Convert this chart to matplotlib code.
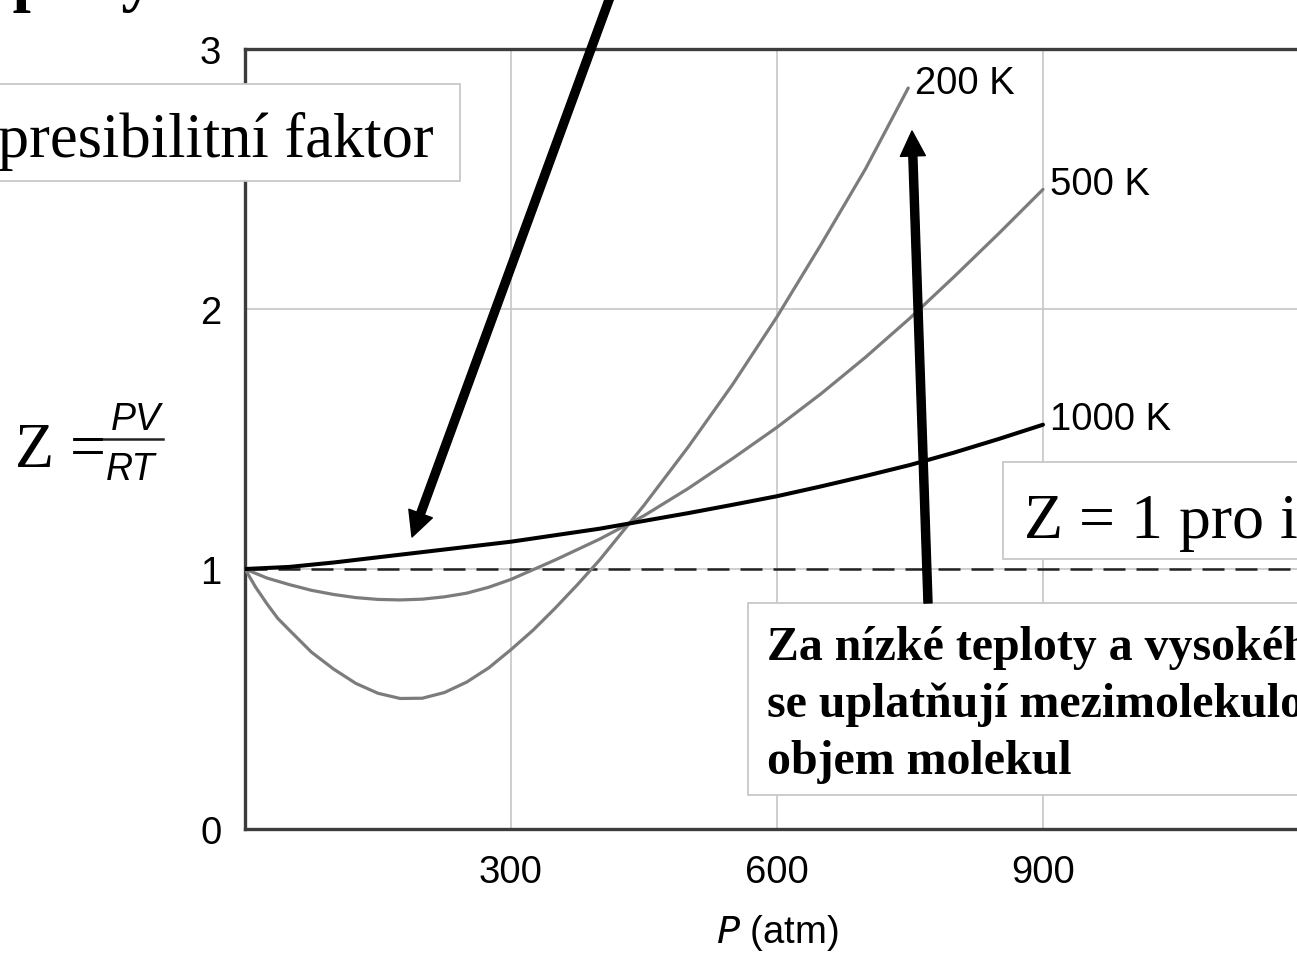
import matplotlib
matplotlib.use("Agg")
import matplotlib.pyplot as plt
from matplotlib.patches import Rectangle, FancyArrowPatch

# ---- data ----
p_200 = [0, 12, 25, 37, 50, 75, 100, 125, 150, 175, 200, 225, 250, 275, 300, 325, 350, 375,
         400, 450, 500, 550, 600, 650, 700, 748]
z_200 = [1.0, 0.93, 0.865, 0.81, 0.765, 0.68, 0.615, 0.56, 0.522, 0.502, 0.503, 0.525, 0.565,
         0.62, 0.69, 0.765, 0.85, 0.94, 1.035, 1.245, 1.47, 1.71, 1.97, 2.25, 2.54, 2.85]

p_500 = [0, 25, 50, 75, 100, 125, 150, 175, 200, 225, 250, 275, 300, 350, 400, 450, 500, 550,
         600, 650, 700, 750, 800, 850, 900]
z_500 = [1.0, 0.965, 0.94, 0.918, 0.902, 0.89, 0.883, 0.881, 0.884, 0.893, 0.907, 0.93, 0.96,
         1.035, 1.115, 1.205, 1.31, 1.425, 1.545, 1.675, 1.815, 1.965, 2.125, 2.29, 2.46]

p_1000 = [0, 50, 100, 150, 200, 250, 300, 350, 400, 450, 500, 550, 600, 650, 700, 750, 800,
          850, 900]
z_1000 = [1.0, 1.008, 1.025, 1.045, 1.065, 1.085, 1.105, 1.13, 1.155, 1.185, 1.215, 1.247,
          1.28, 1.318, 1.358, 1.40, 1.448, 1.50, 1.555]

series_labels = ["200 K", "500 K", "1000 K"]
x_ticks = [300, 600, 900]
y_ticks = [0, 1, 2, 3]

W, H = 1297, 954
fig = plt.figure(figsize=(W / 100, H / 100), dpi=100)

def fx(x):
    return x / W

def fy(y):
    return 1 - y / H

ax = fig.add_axes([245 / W, 124 / H, 1064 / W, 780 / H])
ax.set_xlim(0, 1200)
ax.set_ylim(0, 3)
ax.set_xticks(x_ticks)
ax.set_yticks(y_ticks)
ax.grid(True, color="#c6c6c6", lw=1.2, zorder=0)
ax.set_axisbelow(True)
ax.tick_params(length=0, labelsize=27.5)
ax.tick_params(axis="y", pad=17)
ax.tick_params(axis="x", pad=18)
for lab in ax.get_xticklabels() + ax.get_yticklabels():
    lab.set_family("Liberation Sans")
for s in ["left", "bottom", "top"]:
    ax.spines[s].set_color("#3c3c3c")
    ax.spines[s].set_linewidth(2.4)
ax.spines["right"].set_visible(False)

ax.axhline(1, color="#222222", lw=1.8, ls=(0, (8.8, 4.4)), zorder=2)

gray = "#7c7c7c"
kw = dict(solid_joinstyle="round", solid_capstyle="round")
ax.plot(p_200, z_200, color=gray, lw=2.3, zorder=3, **kw)
ax.plot(p_500, z_500, color=gray, lw=2.3, zorder=3, **kw)
ax.plot(p_1000, z_1000, color="black", lw=2.9, zorder=4, **kw)

for px, pz, lab in [(p_200, z_200, series_labels[0]),
                    (p_500, z_500, series_labels[1]),
                    (p_1000, z_1000, series_labels[2])]:
    ax.text(px[-1] + 8, pz[-1] + 0.02, lab, fontsize=27.5, family="Liberation Sans",
            ha="left", va="center", zorder=5)

plt.rcParams["mathtext.fontset"] = "custom"
plt.rcParams["mathtext.it"] = "Liberation Sans:italic"
plt.rcParams["mathtext.rm"] = "Liberation Sans"
ax.set_xlabel("$P$ (atm)", fontsize=27.5, family="Liberation Sans", labelpad=16)

# Z = PV/RT
fig.text(fx(15), fy(467), "Z =", fontsize=46, family="Liberation Serif", ha="left", va="baseline")
fig.text(fx(136), fy(430), "PV", fontsize=27, family="Liberation Sans", style="italic",
         ha="center", va="baseline")
fig.text(fx(131), fy(480), "RT", fontsize=27, family="Liberation Sans", style="italic",
         ha="center", va="baseline")
fig.add_artist(plt.Line2D([fx(100), fx(163)], [fy(440), fy(440)], transform=fig.transFigure,
                          color="#222222", lw=1.8))

# top bold text (mostly cut off by the top edge)
fig.text(fx(-38), fy(-1), "teploty a nízkého tlaku", fontsize=47, family="Liberation Serif",
         weight="bold", ha="left", va="baseline")

def box(x0, y0, x1, y1):
    fig.add_artist(Rectangle((fx(x0), fy(y1)), fx(x1) - fx(x0), fy(y0) - fy(y1),
                             transform=fig.transFigure, facecolor="white",
                             edgecolor="#c8c8c8", lw=1.3, zorder=6))

box(-10, 85, 460, 182)
fig.text(fx(434), fy(157), "Kompresibilitní faktor", fontsize=45, family="Liberation Serif",
         ha="right", va="baseline", zorder=7)

box(1003, 463, 1320, 560)
fig.text(fx(1024), fy(538), "Z = 1 pro ideální plyn", fontsize=46, family="Liberation Serif",
         ha="left", va="baseline", zorder=7)

box(748, 604, 1320, 796)
for i, line in enumerate(["Za nízké teploty a vysokého tlaku",
                          "se uplatňují mezimolekulové síly a",
                          "objem molekul"]):
    fig.text(fx(767), fy(660 + 57 * i), line, fontsize=34.5, family="Liberation Serif",
             weight="bold", ha="left", va="baseline", zorder=7)

def arrow(x0, y0, x1, y1):
    a = FancyArrowPatch((fx(x0), fy(y0)), (fx(x1), fy(y1)), transform=fig.transFigure,
                        arrowstyle="simple,head_length=18,head_width=18,tail_width=5.8",
                        mutation_scale=1, shrinkA=0, shrinkB=0, color="black", zorder=8)
    fig.add_artist(a)

arrow(613, -10, 412, 538)
arrow(928, 604, 912, 132)

fig.savefig("out.png", dpi=100)
